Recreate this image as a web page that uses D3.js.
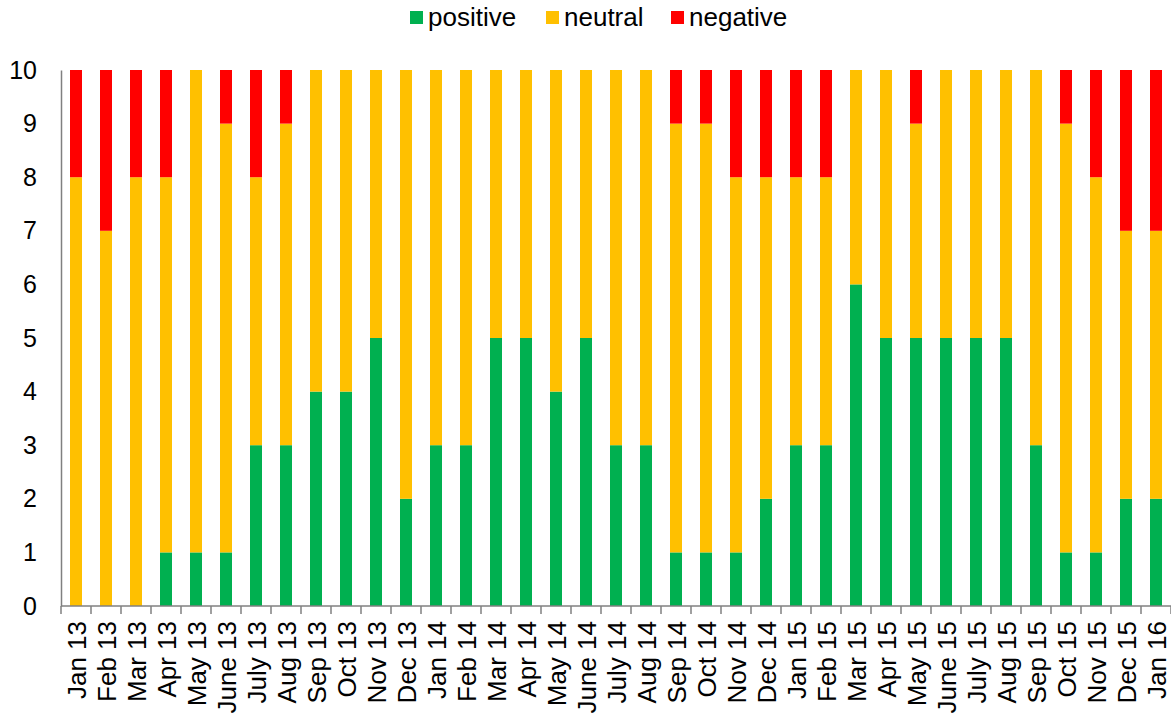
<!DOCTYPE html>
<html><head><meta charset="utf-8">
<script src="https://cdn.jsdelivr.net/npm/d3@7"></script>
<style>body{margin:0;background:#fff;} svg{display:block;font-family:"Liberation Sans",Arial,sans-serif;}</style>
</head><body>
<svg id="chart" width="1171" height="714"></svg>
<script>
const categories = ["Jan 13","Feb 13","Mar 13","Apr 13","May 13","June 13","July 13","Aug 13","Sep 13","Oct 13","Nov 13","Dec 13",
"Jan 14","Feb 14","Mar 14","Apr 14","May 14","June 14","July 14","Aug 14","Sep 14","Oct 14","Nov 14","Dec 14",
"Jan 15","Feb 15","Mar 15","Apr 15","May 15","June 15","July 15","Aug 15","Sep 15","Oct 15","Nov 15","Dec 15","Jan 16"];
const positive = [0,0,0,1,1,1,3,3,4,4,5,2,3,3,5,5,4,5,3,3,1,1,1,2,3,3,6,5,5,5,5,5,3,1,1,2,2];
const neutral  = [8,7,8,7,9,8,5,6,6,6,5,8,7,7,5,5,6,5,7,7,8,8,7,6,5,5,4,5,4,5,5,5,7,8,7,5,5];
const negative = [2,3,2,2,0,1,2,1,0,0,0,0,0,0,0,0,0,0,0,0,1,1,2,2,2,2,0,0,1,0,0,0,0,1,2,3,3];
const seriesNames = ["positive","neutral","negative"];
const colors = ["#00B050","#FFC000","#FF0000"];
const yTicks = [0,1,2,3,4,5,6,7,8,9,10];

const svg = d3.select("#chart");
const m = {left:61, right:0, top:70, bottom:108};
const W = 1171, H = 714;
const x = d3.scaleBand().domain(categories).range([m.left, W - m.right]).paddingInner(0.6).paddingOuter(0.3);
const y = d3.scaleLinear().domain([0,10]).range([H - m.bottom, m.top]);

const rows = categories.map((c,i)=>({cat:c, positive:positive[i], neutral:neutral[i], negative:negative[i]}));
const stack = d3.stack().keys(seriesNames)(rows);

svg.append("g").selectAll("g").data(stack).join("g")
  .attr("fill",(d,i)=>colors[i])
  .selectAll("rect").data(d=>d).join("rect")
  .attr("x",d=>x(d.data.cat))
  .attr("width",x.bandwidth())
  .attr("y",d=>y(d[1]))
  .attr("height",d=>y(d[0])-y(d[1]));

// y axis
const yAxis = svg.append("g").attr("transform",`translate(${m.left},0)`)
  .call(d3.axisLeft(y).tickValues(yTicks).tickSize(0).tickPadding(24).tickFormat(d3.format("d")));
yAxis.select(".domain").attr("stroke","#808080").attr("stroke-width",1.5);
yAxis.selectAll("text").attr("font-size",25).attr("fill","#000").attr("font-family","'Liberation Sans',Arial,sans-serif");

// x axis
const step = x.step();
const xg = svg.append("g").attr("transform",`translate(0,${y(0)})`);
xg.append("line").attr("x1",m.left).attr("x2",W).attr("y1",0).attr("y2",0).attr("stroke","#808080").attr("stroke-width",1.5);
const boundaries = categories.map(c=>x(c) - (step - x.bandwidth())/2).concat([W]);
xg.selectAll("line.tk").data(boundaries).join("line").attr("class","tk")
  .attr("x1",d=>d).attr("x2",d=>d).attr("y1",0).attr("y2",8).attr("stroke","#808080").attr("stroke-width",1.5);
xg.selectAll("text").data(categories).join("text")
  .attr("transform",d=>`translate(${x(d)+x.bandwidth()/2+10},15) rotate(-90)`)
  .attr("text-anchor","end")
  .attr("font-size",26).attr("fill","#000")
  .text(d=>d);

// legend
const legendX = [410, 546, 671];
const lg = svg.append("g");
seriesNames.forEach((s,i)=>{
  lg.append("rect").attr("x",legendX[i]).attr("y",11).attr("width",13).attr("height",13).attr("fill",colors[i]);
  lg.append("text").attr("x",legendX[i]+18).attr("y",26).attr("font-size",26).attr("fill","#000").text(s);
});
</script>
</body></html>
